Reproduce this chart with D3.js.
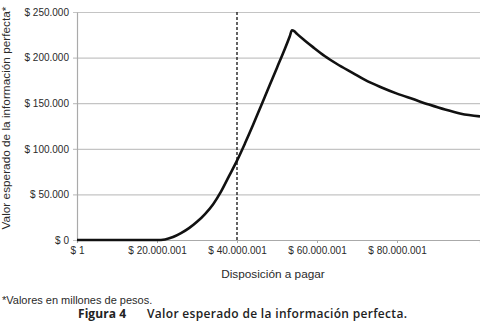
<!DOCTYPE html>
<html>
<head>
<meta charset="utf-8">
<script src="https://cdn.jsdelivr.net/npm/d3@7"></script>
<style>
  body { margin: 0; background: #fff; }
  svg { display: block; }
  .tick text { font-family: "Liberation Sans", Arial, sans-serif; font-size: 10px; fill: #2a2a2a; }
</style>
</head>
<body>
<svg id="chart" width="480" height="331"></svg>
<script>
// disposición a pagar (millones de pesos) vs valor esperado de la información perfecta
const disposicion = [0, 10, 20, 22, 24, 26, 28, 30, 32, 34, 36, 38, 40, 42, 44, 46, 48, 50, 52, 53.2, 53.75, 54.3, 55, 57, 59, 62, 65, 69, 72, 76, 80, 84, 88, 92, 96, 100.75];
const valorEsperado = [0, 0, 0, 600, 3200, 7500, 13000, 20000, 28500, 39000, 53000, 70000, 87000, 106000, 126000, 147000, 168000, 189000, 210000, 223500, 230000, 229000, 226000, 218500, 211500, 201500, 193000, 183000, 175500, 167500, 160500, 154500, 148500, 143000, 138500, 135500];
const xTicks = [0, 20, 40, 60, 80];
const xTickLabels = ['$ 1', '$ 20.000.001', '$ 40.000.001', '$ 60.000.001', '$ 80.000.001'];
const yTicks = [0, 50000, 100000, 150000, 200000, 250000];
const umbral = 40;

const svg = d3.select('#chart');
const margin = { top: 12, right: 0, bottom: 91, left: 77 };
const width = +svg.attr('width') - margin.left - margin.right;
const height = +svg.attr('height') - margin.top - margin.bottom;
const g = svg.append('g').attr('transform', `translate(${margin.left},${margin.top})`);

const esCL = d3.formatLocale({ decimal: ',', thousands: '.', grouping: [3], currency: ['$ ', ''] });

const x = d3.scaleLinear().domain([0, 100.75]).range([0, width]);
const y = d3.scaleLinear().domain([0, 250000]).range([height, 0]);

// grid lines
g.append('g')
  .selectAll('line')
  .data(yTicks)
  .enter().append('line')
  .attr('x1', -4)
  .attr('x2', width)
  .attr('y1', d => y(d) + 0.5)
  .attr('y2', d => y(d) + 0.5)
  .attr('stroke', '#c4c4c4')
  .attr('stroke-width', 1.2);

const gy = g.append('g')
  .call(d3.axisLeft(y).tickValues(yTicks).tickSize(0).tickPadding(8).tickFormat(esCL.format('$,')));
gy.select('.domain').attr('stroke', '#aaa').attr('stroke-width', 1.2);

const gx = g.append('g')
  .attr('transform', `translate(0,${height})`)
  .call(d3.axisBottom(x).tickValues(xTicks).tickSize(3).tickPadding(4).tickFormat((d, i) => xTickLabels[i]));
gx.select('.domain').attr('stroke', '#aaa').attr('stroke-width', 1.2);
gx.selectAll('.tick line').attr('stroke', '#aaa');

// dashed reference line
g.append('line')
  .attr('x1', x(umbral))
  .attr('x2', x(umbral))
  .attr('y1', 0)
  .attr('y2', height)
  .attr('stroke', '#111')
  .attr('stroke-width', 1.3)
  .attr('stroke-dasharray', '3,2');

const data = disposicion.map((d, i) => ({ x: d, v: valorEsperado[i] }));
const line = d3.line()
  .x(d => x(d.x))
  .y(d => y(d.v))
  .curve(d3.curveMonotoneX);

g.append('path')
  .datum(data)
  .attr('fill', 'none')
  .attr('stroke', '#111')
  .attr('stroke-width', 2.6)
  .attr('stroke-linejoin', 'round')
  .attr('d', line);

// titles
svg.append('text')
  .attr('transform', 'translate(10,118) rotate(-90)')
  .attr('text-anchor', 'middle')
  .style('font-family', '"Liberation Sans", Arial, sans-serif')
  .style('font-size', '11.8px')
  .style('fill', '#2a2a2a')
  .text('Valor esperado de la información perfecta*');

svg.append('text')
  .attr('x', 273)
  .attr('y', 278)
  .attr('text-anchor', 'middle')
  .style('font-family', '"Liberation Sans", Arial, sans-serif')
  .style('font-size', '11.8px')
  .style('fill', '#2a2a2a')
  .text('Disposición a pagar');

svg.append('text')
  .attr('x', 2)
  .attr('y', 304)
  .style('font-family', '"Liberation Sans", Arial, sans-serif')
  .style('font-size', '11px')
  .style('fill', '#2a2a2a')
  .text('*Valores en millones de pesos.');

svg.append('text')
  .attr('x', 78)
  .attr('y', 318)
  .attr('textLength', 48)
  .style('font-family', '"Open Sans", sans-serif')
  .style('font-size', '12px')
  .style('font-weight', 700)
  .style('fill', '#222')
  .text('Figura 4');

svg.append('text')
  .attr('x', 147)
  .attr('y', 318)
  .attr('textLength', 260)
  .style('font-family', '"Open Sans", sans-serif')
  .style('font-size', '12px')
  .style('font-weight', 600)
  .style('fill', '#222')
  .text('Valor esperado de la información perfecta.');
</script>
</body>
</html>
